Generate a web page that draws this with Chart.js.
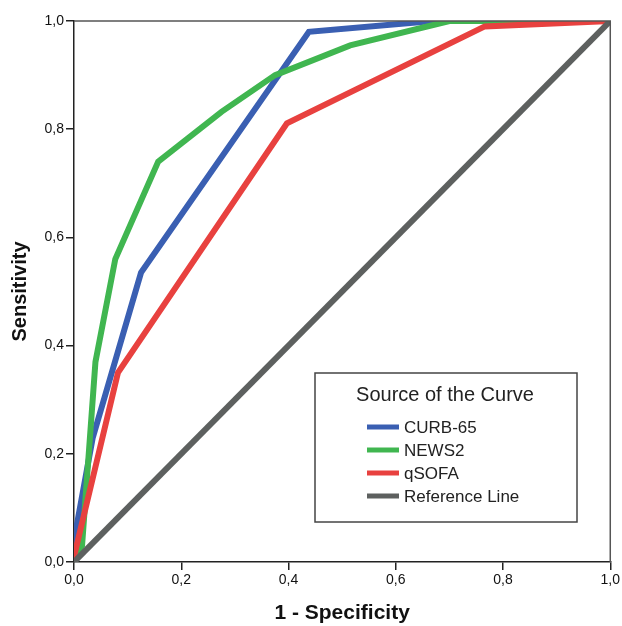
<!DOCTYPE html>
<html>
<head>
<meta charset="utf-8">
<script src="https://cdn.jsdelivr.net/npm/chart.js@4/dist/chart.umd.min.js"></script>
<style>
  html, body { margin: 0; padding: 0; background: #fff; }
  #wrap { width: 622px; height: 626px; position: relative; }
</style>
</head>
<body>
<div id="wrap"><canvas id="roc"></canvas></div>
<script>
// ROC curves: 1 - specificity (x) vs sensitivity (y)
var curbX  = [0, 0, 0.035, 0.125, 0.438, 0.67, 1];
var curbY  = [0, 0.04, 0.23, 0.535, 0.98, 1, 1];
var newsX  = [0, 0.015, 0.04, 0.077, 0.157, 0.275, 0.375, 0.515, 0.70, 1];
var newsY  = [0, 0.03, 0.37, 0.56, 0.74, 0.832, 0.90, 0.955, 1, 1];
var qsofaX = [0, 0, 0.082, 0.397, 0.766, 1];
var qsofaY = [0, 0.01, 0.35, 0.811, 0.99, 1];
var refX   = [0, 1];
var refY   = [0, 1];
var tickVals = [0, 0.2, 0.4, 0.6, 0.8, 1.0];

function pts(xs, ys) {
  var out = [];
  for (var i in xs) out.push({x: xs[i], y: ys[i]});
  return out;
}

var FONT = "'Liberation Sans', Arial, sans-serif";

var frameAndLegend = {
  id: 'frameAndLegend',
  afterDraw: function(chart) {
    var ctx = chart.ctx, a = chart.chartArea;
    ctx.save();
    // top and right frame lines
    ctx.strokeStyle = '#555';
    ctx.lineWidth = 1.5;
    ctx.beginPath();
    ctx.moveTo(a.left, a.top);
    ctx.lineTo(a.right, a.top);
    ctx.lineTo(a.right, a.bottom);
    ctx.stroke();

    // legend box
    var bx = 315, by = 373, bw = 262, bh = 149;
    ctx.fillStyle = '#fff';
    ctx.fillRect(bx, by, bw, bh);
    ctx.strokeStyle = '#444';
    ctx.lineWidth = 1.5;
    ctx.strokeRect(bx, by, bw, bh);
    ctx.fillStyle = '#222';
    ctx.font = '20px ' + FONT;
    ctx.textAlign = 'center';
    ctx.textBaseline = 'middle';
    ctx.fillText('Source of the Curve', bx + 130, by + 22);
    ctx.font = '17px ' + FONT;
    ctx.textAlign = 'left';
    var ds = chart.data.datasets;
    for (var i = 0; i < ds.length; i++) {
      var y = 427 + i * 23;
      ctx.strokeStyle = ds[i].borderColor;
      ctx.lineWidth = 5;
      ctx.lineCap = 'butt';
      ctx.beginPath();
      ctx.moveTo(367, y);
      ctx.lineTo(399, y);
      ctx.stroke();
      ctx.fillStyle = '#222';
      ctx.fillText(ds[i].label, 404, y + 1);
    }
    ctx.restore();
  }
};

new Chart(document.getElementById('roc'), {
  type: 'scatter',
  data: {
    datasets: [
      { label: 'CURB-65', data: pts(curbX, curbY), borderColor: '#3a5fb2', order: 3 },
      { label: 'NEWS2', data: pts(newsX, newsY), borderColor: '#40b650', order: 2 },
      { label: 'qSOFA', data: pts(qsofaX, qsofaY), borderColor: '#e8413f', order: 1 },
      { label: 'Reference Line', data: pts(refX, refY), borderColor: '#5d605f', order: 0 }
    ]
  },
  options: {
    responsive: true,
    maintainAspectRatio: false,
    animation: { duration: 0 },
    showLine: true,
    elements: {
      line: { tension: 0, borderWidth: 6, borderJoinStyle: 'miter', fill: false },
      point: { radius: 0, hoverRadius: 0 }
    },
    layout: { padding: { top: 21, right: 9, left: 0, bottom: 0 } },
    plugins: { legend: { display: false }, tooltip: { enabled: false } },
    scales: {
      x: {
        type: 'linear', min: 0, max: 1,
        afterFit: function(s) { s.height = 64; },
        afterBuildTicks: function(s) { s.ticks = tickVals.map(function(v){ return {value: v}; }); },
        grid: { drawOnChartArea: false, drawTicks: true, tickLength: 8, color: '#222', lineWidth: 1.5 },
        border: { color: '#222', width: 1.5 },
        ticks: {
          color: '#111', padding: 2,
          font: { family: FONT, size: 14 },
          callback: function(v) { return v.toFixed(1).replace('.', ','); }
        },
        title: { display: true, text: '1 - Specificity', color: '#111',
                 font: { family: FONT, size: 21, weight: 'bold' }, padding: { top: 0, bottom: 0 } }
      },
      y: {
        type: 'linear', min: 0, max: 1,
        afterFit: function(s) { s.width = 74; },
        afterBuildTicks: function(s) { s.ticks = tickVals.map(function(v){ return {value: v}; }); },
        grid: { drawOnChartArea: false, drawTicks: true, tickLength: 8, color: '#222', lineWidth: 1.5 },
        border: { color: '#222', width: 1.5 },
        ticks: {
          color: '#111', padding: 2,
          font: { family: FONT, size: 14 },
          callback: function(v) { return v.toFixed(1).replace('.', ','); }
        },
        title: { display: true, text: 'Sensitivity', color: '#111',
                 font: { family: FONT, size: 20, weight: 'bold' }, padding: { top: 8, bottom: 0 } }
      }
    }
  },
  plugins: [frameAndLegend]
});
</script>
</body>
</html>
